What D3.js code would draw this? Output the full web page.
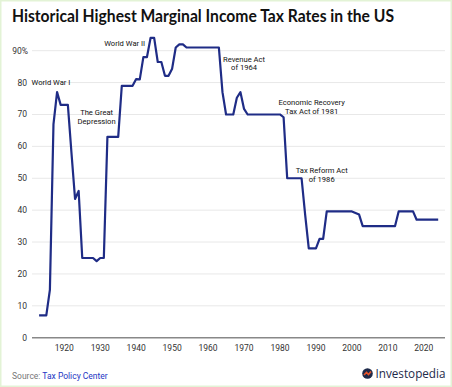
<!DOCTYPE html>
<html>
<head>
<meta charset="utf-8">
<script src="https://cdn.jsdelivr.net/npm/d3@7"></script>
<style>
  body { margin: 0; background: #fff; }
  svg { display: block; }
</style>
</head>
<body>
<svg></svg>
<script>
const size = {w: 452, h: 387};

// top marginal rate by year (percent)
const years = d3.range(1913, 2025);
const rates = [
  7, 7, 7, 15, 67, 77, 73, 73, 73, 58,          // 1913-1922
  43.5, 46, 25, 25, 25, 25, 24, 25, 25, 63,     // 1923-1932
  63, 63, 63, 79, 79, 79, 79, 81.1, 81, 88,     // 1933-1942
  88, 94, 94, 86.45, 86.45, 82.13, 82.13, 84.36, 91, 92, // 1943-1952
  92, 91, 91, 91, 91, 91, 91, 91, 91, 91,       // 1953-1962
  91, 77, 70, 70, 70, 75.25, 77, 71.75, 70, 70, // 1963-1972
  70, 70, 70, 70, 70, 70, 70, 70, 69.13, 50,    // 1973-1982
  50, 50, 50, 50, 38.5, 28, 28, 28, 31, 31,     // 1983-1992
  39.6, 39.6, 39.6, 39.6, 39.6, 39.6, 39.6, 39.6, 39.1, 38.6, // 1993-2002
  35, 35, 35, 35, 35, 35, 35, 35, 35, 35,       // 2003-2012
  39.6, 39.6, 39.6, 39.6, 39.6, 37, 37, 37, 37, 37, // 2013-2022
  37, 37                                        // 2023-2024
];
const yTicks = [0, 10, 20, 30, 40, 50, 60, 70, 80, 90];
const xTicks = [1920, 1930, 1940, 1950, 1960, 1970, 1980, 1990, 2000, 2010, 2020];

const notes = [
  {lines: ['World War I'], year: 1916.3, value: 80},
  {lines: ['The Great', 'Depression'], year: 1929, value: 70.7},
  {lines: ['World War II'], year: 1936.8, value: 92.2},
  {lines: ['Revenue Act', 'of 1964'], year: 1970, value: 87.4},
  {lines: ['Economic Recovery', 'Tax Act of 1981'], year: 1988.8, value: 73.9},
  {lines: ['Tax Reform Act', 'of 1986'], year: 1991.6, value: 52.4}
];

const data = years.map((y, i) => ({year: y, value: rates[i]}));

const svg = d3.select('svg')
  .attr('width', size.w)
  .attr('height', size.h);

svg.append('rect')
  .attr('x', 0.5).attr('y', 0.5)
  .attr('width', size.w - 1).attr('height', size.h - 1)
  .attr('fill', '#fff')
  .attr('stroke', '#e3f3d6')
  .attr('stroke-width', 2);

svg.append('text')
  .attr('x', 12).attr('y', 22)
  .attr('font-family', 'Lato, sans-serif')
  .attr('font-weight', 700)
  .attr('font-size', 16.5)
  .attr('textLength', 382)
  .attr('lengthAdjust', 'spacingAndGlyphs')
  .attr('fill', '#111')
  .text('Historical Highest Marginal Income Tax Rates in the US');

let x = d3.scaleLinear().domain([1913, 2024]).range([39.1, 438.2]);
let y = d3.scaleLinear().domain([0, 90]).range([337.7, 50.7]);

const gridG = svg.append('g');
gridG.selectAll('line')
  .data(yTicks.filter(d => d > 0))
  .join('line')
  .attr('x1', 32).attr('x2', 445)
  .attr('y1', d => y(d)).attr('y2', d => y(d))
  .attr('stroke', '#e8e8e8')
  .attr('stroke-width', 1);

// y labels
svg.append('g').selectAll('text')
  .data(yTicks)
  .join('text')
  .attr('x', d => d === 90 ? 28 : 27)
  .attr('y', d => y(d))
  .attr('dy', '0.35em')
  .attr('text-anchor', 'end')
  .attr('font-family', 'Roboto, sans-serif')
  .attr('font-size', 8.5)
  .attr('fill', '#333')
  .text(d => d === 90 ? d + '%' : d);

// baseline
svg.append('line')
  .attr('x1', 32).attr('x2', 445)
  .attr('y1', y(0)).attr('y2', y(0))
  .attr('stroke', '#888')
  .attr('stroke-width', 1.5);

// x labels
svg.append('g').selectAll('text')
  .data(xTicks)
  .join('text')
  .attr('x', d => x(d))
  .attr('y', 351)
  .attr('text-anchor', 'middle')
  .attr('font-family', 'Roboto, sans-serif')
  .attr('font-size', 8.5)
  .attr('fill', '#333')
  .text(d => d);

const line = d3.line()
  .x(d => x(d.year))
  .y(d => y(d.value));

svg.append('path')
  .datum(data)
  .attr('d', line)
  .attr('fill', 'none')
  .attr('stroke', '#1f2c86')
  .attr('stroke-width', 2.2)
  .attr('stroke-linejoin', 'round');

// annotations
const noteG = svg.append('g')
  .attr('font-family', 'Roboto, sans-serif')
  .attr('font-size', 7.6)
  .attr('fill', '#111')
  .attr('text-anchor', 'middle');

notes.forEach(n => {
  let t = noteG.append('text')
    .attr('x', x(n.year))
    .attr('y', y(n.value));
  n.lines.forEach((s, i) => {
    t.append('tspan')
      .attr('x', x(n.year))
      .attr('dy', i === 0 ? '0.35em' : 8.8)
      .text(s);
  });
});

// footer
const src = svg.append('text')
  .attr('x', 12).attr('y', 379)
  .attr('font-family', 'Roboto, sans-serif')
  .attr('font-size', 8.5);
src.append('tspan').attr('fill', '#777').text('Source: ');
src.append('tspan').attr('fill', '#2436c4').text('Tax Policy Center');

// logo
const logo = svg.append('g').attr('transform', 'translate(367.5,373.5)');
logo.append('circle').attr('r', 5.3).attr('fill', '#1e2a4a');
logo.append('path')
  .attr('d', 'M-3.5,1.5 L-1,-1 L1,1 L3.5,-2')
  .attr('fill', 'none')
  .attr('stroke', '#e8552b')
  .attr('stroke-width', 1.6);
svg.append('text')
  .attr('x', 375.5).attr('y', 378)
  .attr('font-family', '"Open Sans", sans-serif')
  .attr('font-size', 12.5)
  .attr('textLength', 70)
  .attr('lengthAdjust', 'spacingAndGlyphs')
  .attr('fill', '#1e2a4a')
  .text('Investopedia');
</script>
</body>
</html>
